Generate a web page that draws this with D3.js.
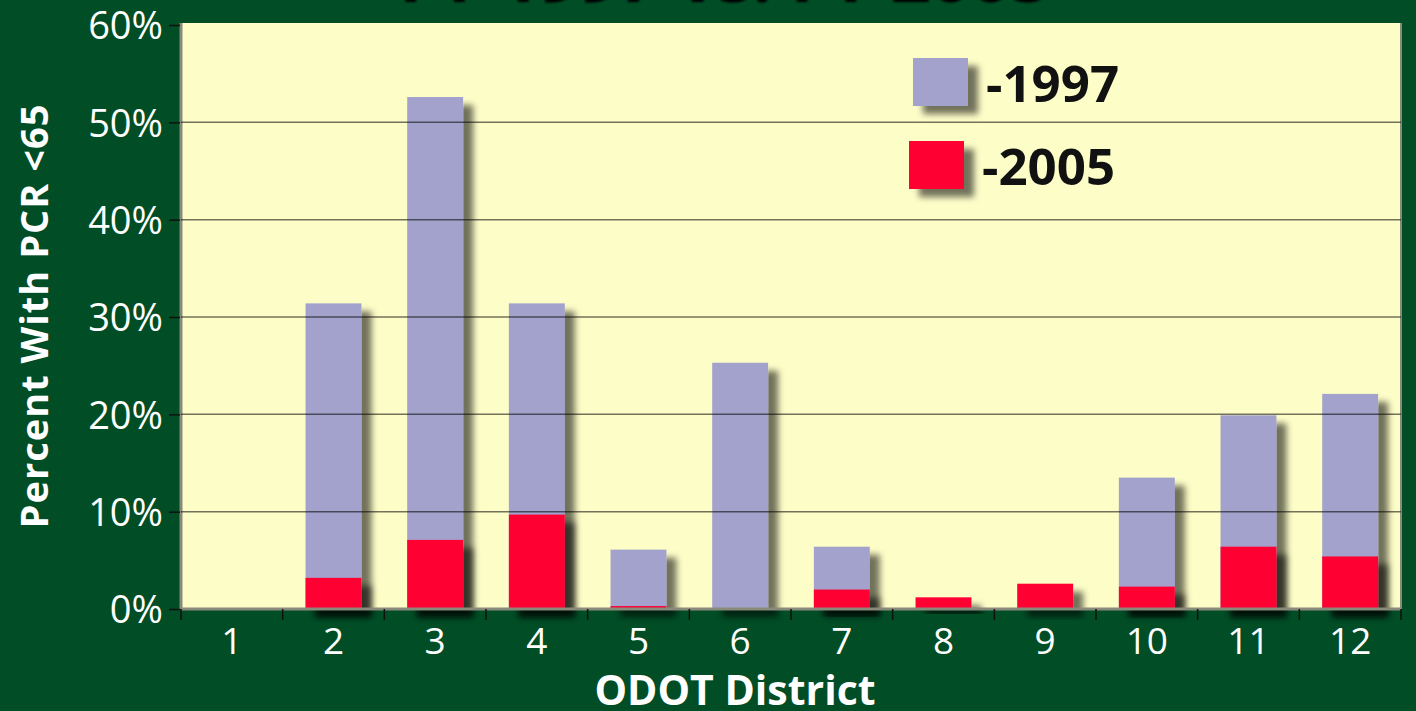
<!DOCTYPE html>
<html lang="en">
<head>
  <meta charset="UTF-8">
  <title>FY 1997 vs. FY 2005</title>
  <script src="https://d3js.org/d3.v7.min.js"></script>
  <style>
    body { margin: 0; background: #004d26; }
    svg { display: block; }
    text { font-family: "Open Sans", "Noto Sans", sans-serif; }
  </style>
</head>
<body>
<svg width="1416" height="711"></svg>
<script>
// district labels and the two series (percent of lane miles with PCR < 65)
const districts = ["1", "2", "3", "4", "5", "6", "7", "8", "9", "10", "11", "12"];
const pct1997 = [0, 31.4, 52.6, 31.4, 6.1, 25.3, 6.4, 0, 0, 13.5, 19.9, 22.1];
const pct2005 = [0, 3.2, 7.1, 9.7, 0.3, 0, 2.0, 1.2, 2.6, 2.3, 6.4, 5.4];
const yTicks = [0, 10, 20, 30, 40, 50, 60];
const seriesNames = ["-1997", "-2005"];
const colors = ["#a2a2cc", "#ff0033"];

const svg = d3.select("svg");
const plotL = 181, plotR = 1401, plotT = 23, plotB = 609;

const x = d3.scaleBand().domain(districts).range([plotL, plotR]).paddingInner(0.45).paddingOuter(0.225);
const y = d3.scaleLinear().domain([0, 60]).range([plotB, plotT + 2]);

// drop shadow for the bars
const defs = svg.append("defs");
const f = defs.append("filter").attr("id", "shadow")
  .attr("x", "-20%").attr("y", "-20%").attr("width", "160%").attr("height", "160%");
f.append("feDropShadow")
  .attr("dx", 10).attr("dy", 8).attr("stdDeviation", 3)
  .attr("flood-color", "#000").attr("flood-opacity", 0.55);

// title, mostly cut off at the top edge (as in the original)
svg.append("text")
  .attr("x", 722).attr("y", -1)
  .attr("text-anchor", "middle")
  .attr("font-size", 70).attr("font-weight", "bold")
  .attr("fill", "#fff")
  .style("filter", "drop-shadow(3px 3px 1px #000)")
  .text("FY 1997 vs. FY 2005");

// plot background
svg.append("rect")
  .attr("x", plotL).attr("y", plotT)
  .attr("width", plotR - plotL).attr("height", plotB - plotT)
  .attr("fill", "#fdfdc8");
svg.append("line")
  .attr("x1", plotL).attr("x2", plotL).attr("y1", plotT).attr("y2", plotB)
  .attr("stroke", "#8a8a7a").attr("stroke-width", 3);
svg.append("line")
  .attr("x1", plotR).attr("x2", plotR).attr("y1", plotT).attr("y2", plotB)
  .attr("stroke", "#8a8a7a").attr("stroke-width", 2);

// 1997 bars (behind)
svg.append("g").selectAll("rect")
  .data(districts.map((d, i) => ({ d, v: pct1997[i] })).filter(o => o.v > 0))
  .join("rect")
  .attr("x", o => x(o.d)).attr("width", x.bandwidth())
  .attr("y", o => y(o.v)).attr("height", o => y(0) - y(o.v))
  .attr("fill", colors[0])
  .attr("filter", "url(#shadow)");

// gridlines
svg.append("g").selectAll("line")
  .data(yTicks.filter(t => t > 0 && t < 60))
  .join("line")
  .attr("x1", plotL).attr("x2", plotR)
  .attr("y1", d => y(d)).attr("y2", d => y(d))
  .attr("stroke", "#000").attr("stroke-opacity", 0.55).attr("stroke-width", 1.5);

// 2005 bars (front)
svg.append("g").selectAll("rect")
  .data(districts.map((d, i) => ({ d, v: pct2005[i] })).filter(o => o.v > 0))
  .join("rect")
  .attr("x", o => x(o.d)).attr("width", x.bandwidth())
  .attr("y", o => y(o.v)).attr("height", o => y(0) - y(o.v))
  .attr("fill", colors[1])
  .attr("filter", "url(#shadow)");

// baseline
svg.append("line")
  .attr("x1", plotL).attr("x2", plotR).attr("y1", plotB).attr("y2", plotB)
  .attr("stroke", "#8a8a7a").attr("stroke-width", 3);

// y axis
const yAxis = svg.append("g")
  .attr("transform", `translate(${plotL - 1},0)`)
  .call(d3.axisLeft(y).tickValues(yTicks).tickFormat(d => d + "%").tickSize(11).tickPadding(6));
yAxis.select(".domain").remove();
yAxis.selectAll(".tick line").attr("stroke", "#111").attr("stroke-width", 1.5);
yAxis.selectAll(".tick text")
  .attr("fill", "#fff").attr("font-size", 38).attr("dy", "0.36em");

// x axis: ticks on band edges
const edges = districts.map(d => x(d) - x.step() * x.paddingInner() / 2);
edges.push(plotR);
svg.append("g").selectAll("line")
  .data(edges)
  .join("line")
  .attr("x1", d => d).attr("x2", d => d)
  .attr("y1", plotB).attr("y2", plotB + 11)
  .attr("stroke", "#111").attr("stroke-width", 1.5);
svg.append("g").selectAll("text")
  .data(districts)
  .join("text")
  .attr("x", d => x(d) + x.bandwidth() / 2)
  .attr("y", 654)
  .attr("text-anchor", "middle")
  .attr("fill", "#fff").attr("font-size", 37)
  .text(d => d);

// axis titles
svg.append("text")
  .attr("x", 735).attr("y", 705)
  .attr("text-anchor", "middle")
  .attr("fill", "#fff").attr("font-size", 41).attr("font-weight", "bold")
  .text("ODOT District");
svg.append("text")
  .attr("transform", "translate(48,316) rotate(-90)")
  .attr("text-anchor", "middle")
  .attr("fill", "#fff").attr("font-size", 38).attr("font-weight", "bold")
  .attr("letter-spacing", 1)
  .text("Percent With PCR <65");

// legend
const legend = svg.append("g");
const legendRows = [{ sx: 913, sy: 58 }, { sx: 909, sy: 141 }];
seriesNames.forEach((name, i) => {
  legend.append("rect")
    .attr("x", legendRows[i].sx).attr("y", legendRows[i].sy)
    .attr("width", 55).attr("height", 48)
    .attr("fill", colors[i])
    .attr("filter", "url(#shadow)");
  legend.append("text")
    .attr("x", legendRows[i].sx + 73).attr("y", legendRows[i].sy + 44)
    .attr("font-size", 51).attr("font-weight", "bold").attr("fill", "#111")
    .text(name);
});
</script>
</body>
</html>
